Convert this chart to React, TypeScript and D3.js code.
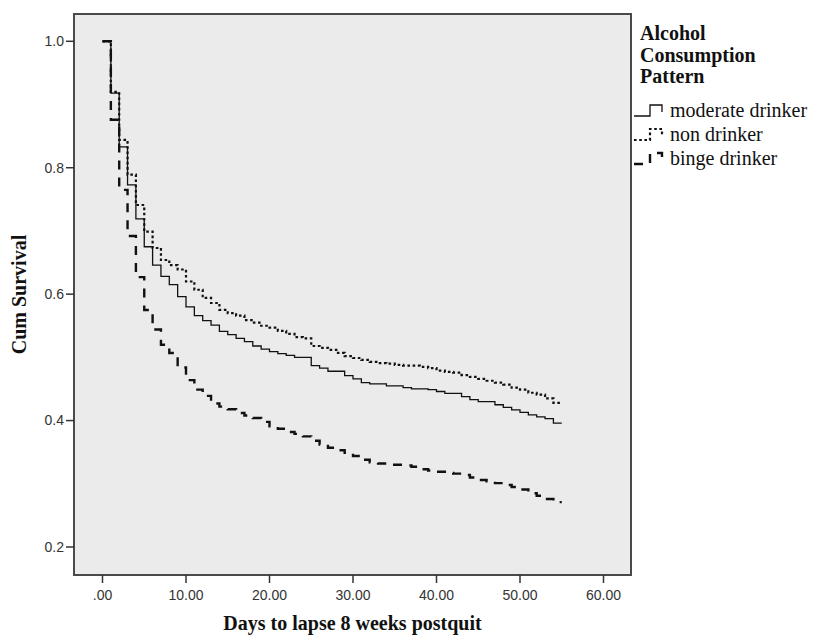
import React from "react";
import * as d3 from "d3";

// ---- data ----
const days = d3.range(0, 56);

const moderateDrinker = [
  1.0, 0.918, 0.833, 0.773, 0.719, 0.675, 0.646, 0.628, 0.615, 0.596,
  0.58, 0.566, 0.558, 0.551, 0.541, 0.536, 0.53, 0.525, 0.518, 0.513,
  0.509, 0.506, 0.503, 0.5, 0.5, 0.487, 0.483, 0.478, 0.478, 0.471,
  0.466, 0.46, 0.458, 0.458, 0.455, 0.455, 0.452, 0.45, 0.45, 0.449,
  0.446, 0.443, 0.443, 0.438, 0.433, 0.43, 0.43, 0.425, 0.421, 0.417,
  0.413, 0.409, 0.406, 0.403, 0.396, 0.396,
];

const nonDrinker = [
  1.0, 0.92, 0.844, 0.789, 0.741, 0.699, 0.673, 0.654, 0.646, 0.639,
  0.62, 0.607, 0.594, 0.586, 0.575, 0.57, 0.566, 0.559, 0.555, 0.55,
  0.547, 0.542, 0.537, 0.532, 0.53, 0.518, 0.515, 0.512, 0.507, 0.502,
  0.499, 0.496, 0.493, 0.491, 0.49, 0.488, 0.487, 0.487, 0.485, 0.483,
  0.479, 0.477, 0.476, 0.472, 0.469, 0.466, 0.463, 0.46, 0.457, 0.452,
  0.449, 0.444, 0.441, 0.435, 0.428, 0.428,
];

const bingeDrinker = [
  1.0, 0.876, 0.765, 0.692, 0.627, 0.575, 0.544, 0.52, 0.507, 0.484,
  0.464, 0.449, 0.439, 0.427, 0.422, 0.418, 0.412, 0.408, 0.404, 0.398,
  0.391, 0.387, 0.382, 0.379, 0.375, 0.368, 0.362, 0.357, 0.353, 0.349,
  0.344, 0.338, 0.334, 0.332, 0.33, 0.33, 0.329, 0.327, 0.323, 0.321,
  0.319, 0.317, 0.316, 0.314, 0.31, 0.306, 0.304, 0.301, 0.298, 0.295,
  0.291, 0.285, 0.281, 0.276, 0.271, 0.271,
];

const seriesNames = ["moderate drinker", "non drinker", "binge drinker"];
const xTicks = [0, 10, 20, 30, 40, 50, 60];
const xTickLabels = [".00", "10.00", "20.00", "30.00", "40.00", "50.00", "60.00"];
const yTicks = [0.2, 0.4, 0.6, 0.8, 1.0];
const yTickLabels = ["0.2", "0.4", "0.6", "0.8", "1.0"];

const xTitle = "Days to lapse 8 weeks postquit";
const yTitle = "Cum Survival";
const legendTitle = ["Alcohol", "Consumption", "Pattern"];

export default function App() {
  const W = 814;
  const H = 636;
  const frame = { left: 74, top: 14, right: 631, bottom: 575 };

  const x = d3.scaleLinear().domain([0, 60]).range([102.5, 603.5]);
  const y = d3.scaleLinear().domain([0.2, 1.0]).range([547, 41.3]);

  const line = d3
    .line<[number, number]>()
    .x((d) => x(d[0]))
    .y((d) => y(d[1]))
    .curve(d3.curveStepAfter);

  const series = [
    { name: seriesNames[0], values: moderateDrinker, dash: "none", width: 1.3 },
    { name: seriesNames[1], values: nonDrinker, dash: "2.6,2.6", width: 2.2 },
    { name: seriesNames[2], values: bingeDrinker, dash: "9,8", width: 2.4 },
  ];

  const sans = "'Liberation Sans', Arial, sans-serif";
  const serif = "'Liberation Serif', 'Times New Roman', serif";
  const lineColor = "#111";

  const legendY = [117, 141, 165];

  return (
    <svg
      width={W}
      height={H}
      style={{ position: "absolute", left: 0, top: 0, background: "#fff" }}
    >
      <rect
        x={frame.left}
        y={frame.top}
        width={frame.right - frame.left}
        height={frame.bottom - frame.top}
        fill="#ebebeb"
        stroke="#4a4a4a"
        strokeWidth={2}
      />

      {/* y axis ticks */}
      {yTicks.map((t, i) => (
        <g key={"y" + i}>
          <line x1={frame.left - 8} x2={frame.left} y1={y(t)} y2={y(t)} stroke="#333" strokeWidth={1.5} />
          <text
            x={frame.left - 10}
            y={y(t)}
            dy="0.35em"
            textAnchor="end"
            fontFamily={sans}
            fontSize={14}
            fill="#333"
          >
            {yTickLabels[i]}
          </text>
        </g>
      ))}

      {/* x axis ticks */}
      {xTicks.map((t, i) => (
        <g key={"x" + i}>
          <line x1={x(t)} x2={x(t)} y1={frame.bottom} y2={frame.bottom + 8} stroke="#333" strokeWidth={1.5} />
          <text
            x={x(t)}
            y={frame.bottom + 25}
            textAnchor="middle"
            fontFamily={sans}
            fontSize={14}
            fill="#333"
          >
            {xTickLabels[i]}
          </text>
        </g>
      ))}

      {/* series */}
      {series.map((s) => (
        <path
          key={s.name}
          d={line(days.map((d, i) => [d, s.values[i]] as [number, number])) || ""}
          fill="none"
          stroke={lineColor}
          strokeWidth={s.width}
          strokeDasharray={s.dash}
        />
      ))}

      {/* axis titles */}
      <text
        x={(frame.left + frame.right) / 2}
        y={630}
        textAnchor="middle"
        fontFamily={serif}
        fontWeight="bold"
        fontSize={20}
        fill="#111"
      >
        {xTitle}
      </text>
      <text
        transform={`translate(26, ${(frame.top + frame.bottom) / 2}) rotate(-90)`}
        textAnchor="middle"
        fontFamily={serif}
        fontWeight="bold"
        fontSize={20}
        fill="#111"
      >
        {yTitle}
      </text>

      {/* legend */}
      {legendTitle.map((t, i) => (
        <text
          key={"lt" + i}
          x={640}
          y={40 + i * 21.5}
          fontFamily={serif}
          fontWeight="bold"
          fontSize={20}
          fill="#111"
        >
          {t}
        </text>
      ))}
      {series.map((s, i) => {
        const yc = legendY[i] - 6;
        return (
          <g key={"lg" + i}>
            <path
              d={`M634,${yc + 5}H650V${yc - 6}H662V${yc + 1}`}
              fill="none"
              stroke={lineColor}
              strokeWidth={s.width}
              strokeDasharray={s.dash}
            />
            <text x={670} y={legendY[i]} fontFamily={serif} fontSize={20} fill="#111">
              {s.name}
            </text>
          </g>
        );
      })}
    </svg>
  );
}
